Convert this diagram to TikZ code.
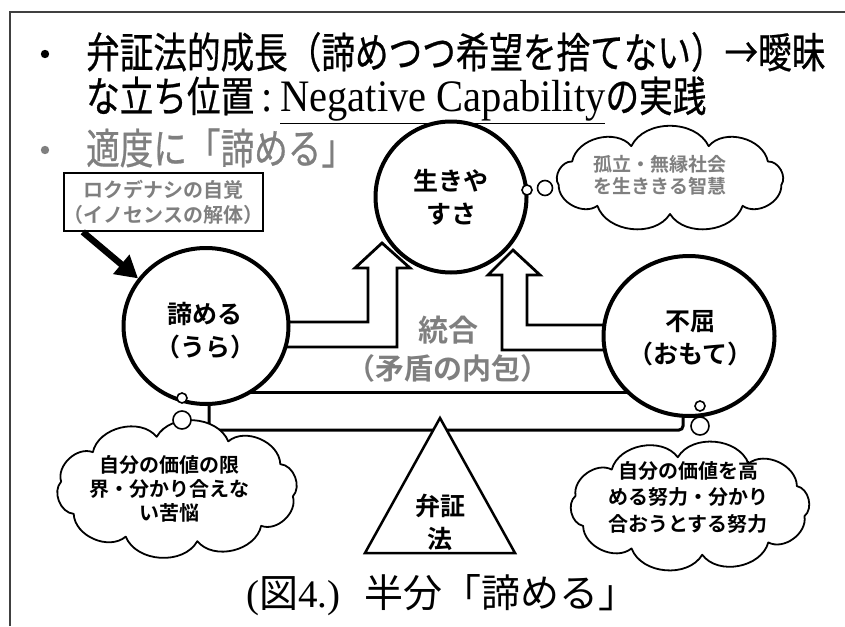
\documentclass[tikz,border=0pt]{standalone}
\usepackage{fontspec}
\setmainfont{Noto Sans CJK JP}[BoldFont={Noto Sans CJK JP Bold}]
\newfontfamily\jpn{Noto Sans CJK JP}[FakeStretch=0.8, FakeBold=0.6]
\newfontfamily\serifc{Liberation Serif}[FakeStretch=0.9]
\newfontfamily\serifn{Liberation Serif}
\usetikzlibrary{shapes.geometric,arrows.meta,calc}
\definecolor{txtgray}{HTML}{7F7F7F}
\tikzset{
  bigcirc/.style={ellipse, draw=black, fill=white, line width=4pt, inner sep=0pt},
  circtext/.style={font=\bfseries\fontsize{25}{33}\selectfont, align=center, inner sep=0pt},
  blockarrow/.style={draw=black, fill=white, line width=2.8pt, line join=miter},
  cloudline/.style={draw=black, fill=white, line width=1.8pt, line join=round},
  cloudtext/.style={font=\bfseries\fontsize{20}{25}\selectfont, align=center, inner sep=0pt},
  bubble/.style={circle, draw=black, fill=white, line width=1.6pt, inner sep=0pt},
  beam/.style={line width=3pt, rounded corners=4pt},
  titletext/.style={anchor=west, inner sep=0pt},
}
% cloud outline: centre x, centre y, radius x, radius y, puffs, start angle
\newcommand\mycloud[6]{%
  \draw[cloudline] ({#1+#3*cos(#6)},{#2+#4*sin(#6)})
    \foreach \k in {1,...,#5} { to[bend left=64] ({#1+#3*cos(#6+\k*360/#5)},{#2+#4*sin(#6+\k*360/#5)}) } -- cycle;}
\begin{document}
\begin{tikzpicture}[x=1pt,y=-1pt]
\useasboundingbox (0,0) rectangle (845,626);
% frame
\draw[line width=1.6pt, black!75] (10,626) -- (10,12) -- (845,12);
% title
\fill (45,54) circle (4.2);
\node[titletext, font=\jpn\fontsize{42}{42}\selectfont] (t1) at (86,52) {弁証法的成長（諦めつつ希望を捨てない）→曖昧};
\node[titletext, font=\jpn\fontsize{42}{42}\selectfont] (t2) at (86,100) {な立ち位置{\serifc\fontsize{45}{45}\selectfont\,:\,\underline{Negative Capability}}の実践};
\fill[txtgray] (45,150) circle (4.2);
\node[titletext, text=txtgray, font=\jpn\fontsize{42}{42}\selectfont] (t3) at (86,148) {適度に「諦める」};

% block arrows
\draw[blockarrow] (280,322) -- (368,322) -- (368,268) -- (355,268) -- (382,243) -- (410,268) -- (397,268) -- (397,347) -- (280,347);
\draw[blockarrow] (615,325) -- (527,325) -- (527,275) -- (540,275) -- (513,250) -- (488,275) -- (502,275) -- (502,350) -- (615,350);

% beams
\coordinate (bl) at (206,392);
\coordinate (br) at (689,392);
\draw[line width=3pt] (bl) -- (br);
\coordinate (lb) at (209,395);
\coordinate (rb) at (683,400);
\draw[beam] (lb) -- (lb |- 0,430) -- (rb |- 0,430) -- (rb);

% circles
\node[bigcirc, minimum width=151pt, minimum height=151pt] (top) at (451,197) {};
\node[bigcirc, minimum width=165pt, minimum height=156pt] (leftc) at (206,326) {};
\node[bigcirc, minimum width=171pt, minimum height=160pt] (rightc) at (689,336) {};
\node[circtext] (topt) at (451,197) {生きや\\すさ};
\node[circtext] (leftt) at (205,331) {諦める\\（うら）};
\node[circtext] (rightt) at (690,338) {不屈\\（おもて）};

% integration text
\node[font=\bfseries\fontsize{30}{30}\selectfont, text=txtgray, inner sep=0pt] (tg) at (448,330) {統合};
\node[font=\bfseries\fontsize{29}{29}\selectfont, text=txtgray, inner sep=0pt] (mu) at (448,368) {（矛盾の内包）};

% box and arrow
\node[draw=black, line width=1.8pt, minimum width=187pt, minimum height=58pt, inner sep=0pt, align=center, text=txtgray, font=\bfseries\fontsize{20}{25}\selectfont] (box) at (163.5,202) {ロクデナシの自覚\\（イノセンスの解体）};
\coordinate (bs) at ($(box.south west)+(20,0)$);
\draw[line width=6.5pt, -{Triangle[length=22pt,width=24pt]}] (bs) -- (leftc.145);

% triangle
\draw[line width=2.5pt, fill=white, line join=miter] (440,418) -- (515,553) -- (365,553) -- cycle;
\node[circtext] (ben) at (440,522) {弁証\\法};

% clouds
\mycloud{670}{179}{113}{35}{9}{10}
\node[cloudtext, text=txtgray, font=\bfseries\fontsize{19}{22}\selectfont] (ct3) at (660,175) {孤立・無縁社会\\を生ききる智慧};
\mycloud{177}{489}{117}{53}{10}{8}
\node[cloudtext, font=\bfseries\fontsize{20}{24}\selectfont] (ct1) at (169,489) {自分の価値の限\\界・分かり合えな\\い苦悩};
\mycloud{690}{506}{117}{49}{10}{12}
\node[cloudtext, font=\bfseries\fontsize{20}{26.5}\selectfont] (ct2) at (688,497) {自分の価値を高\\める努力・分かり\\合おうとする努力};

% thought bubbles
\node[bubble, minimum size=10pt] (b31) at (527,190) {};
\node[bubble, minimum size=15pt] (b32) at (545,188) {};
\node[bubble, minimum size=10pt] (b11) at (182,398) {};
\node[bubble, minimum size=18pt] (b12) at (182,420) {};
\node[bubble, minimum size=10pt] (b21) at (700,406) {};
\node[bubble, minimum size=18pt] (b22) at (700,426) {};

% caption
\node[inner sep=0pt, anchor=west, font=\fontsize{39}{39}\selectfont] (cap) at (246,595) {{\serifn (}図{\serifn 4.)}\hspace{24pt}半分「諦める」};
\end{tikzpicture}
\end{document}
